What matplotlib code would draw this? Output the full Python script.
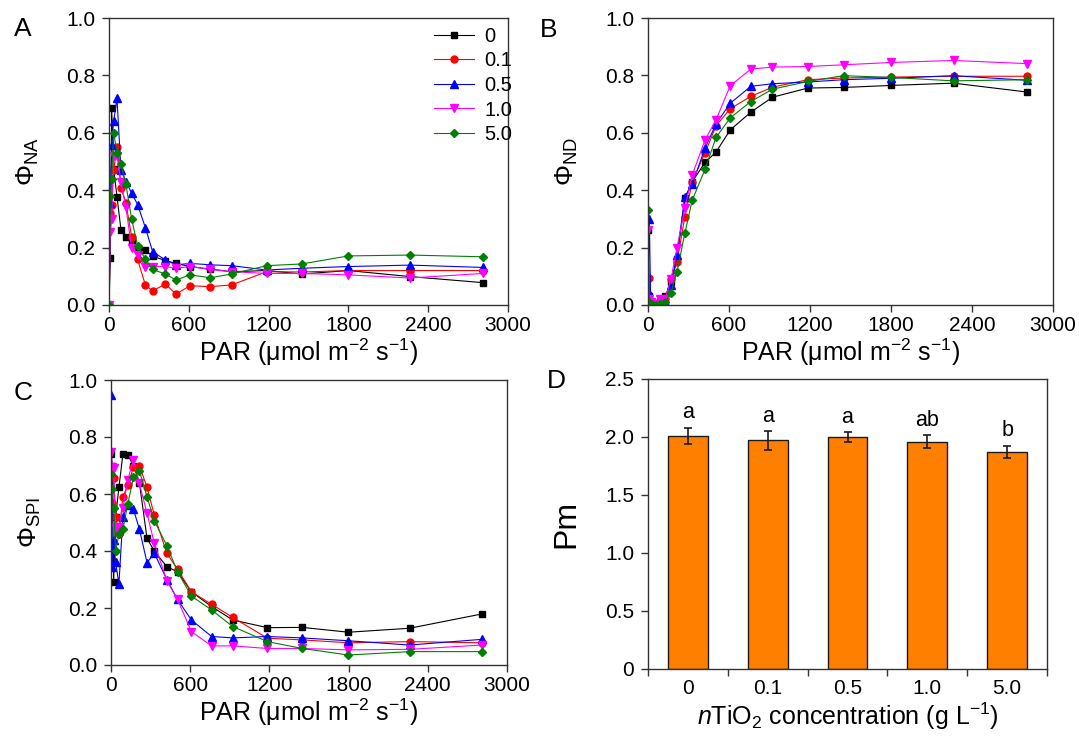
import matplotlib
matplotlib.use("Agg")
import matplotlib.pyplot as plt
import numpy as np

plt.rcParams['font.family'] = ['Liberation Sans', 'DejaVu Sans']
plt.rcParams['mathtext.fontset'] = 'custom'
plt.rcParams['mathtext.rm'] = 'Liberation Sans'
plt.rcParams['mathtext.it'] = 'Liberation Sans:italic'
plt.rcParams['mathtext.bf'] = 'Liberation Sans:bold'
plt.rcParams['mathtext.default'] = 'regular'

# ---------------- data ----------------
par = [0, 10, 20, 35, 60, 90, 127, 170, 215, 273, 328, 423, 504, 609, 762,
       922, 1185, 1449, 1799, 2263, 2809]
groups = ['0', '0.1', '0.5', '1.0', '5.0']

phi_na_0 = [0.0, 0.165, 0.686, 0.473, 0.378, 0.262, 0.238, 0.22, 0.20, 0.19, 0.17,
            0.155, 0.145, 0.134, 0.125, 0.116, 0.12, 0.108, 0.12, 0.099, 0.078]
phi_na_01 = [0.0, 0.32, 0.35, 0.47, 0.55, 0.407, 0.357, 0.238, 0.159, 0.07, 0.049,
             0.073, 0.038, 0.067, 0.064, 0.07, 0.116, 0.115, 0.12, 0.12, 0.12]
phi_na_05 = [0.0, 0.355, 0.558, 0.64, 0.72, 0.47, 0.43, 0.39, 0.35, 0.27, 0.186,
             0.157, 0.14, 0.145, 0.14, 0.137, 0.122, 0.128, 0.134, 0.139, 0.131]
phi_na_10 = [0.0, 0.256, 0.30, 0.52, 0.52, 0.43, 0.34, 0.20, 0.175, 0.134, 0.134,
             0.134, 0.128, 0.134, 0.124, 0.116, 0.11, 0.11, 0.105, 0.094, 0.11]
phi_na_50 = [0.0, 0.38, 0.44, 0.60, 0.53, 0.49, 0.42, 0.30, 0.207, 0.16, 0.124,
             0.108, 0.087, 0.105, 0.095, 0.108, 0.137, 0.143, 0.171, 0.174, 0.168]

phi_nd_0 = [0.26, 0.03, 0.01, 0.005, 0.005, 0.01, 0.03, 0.08, 0.16, 0.372, 0.43,
            0.497, 0.533, 0.61, 0.672, 0.724, 0.756, 0.758, 0.765, 0.773, 0.742]
phi_nd_01 = [0.02, 0.093, 0.01, 0.005, 0.005, 0.01, 0.02, 0.09, 0.15, 0.308, 0.43,
             0.531, 0.624, 0.684, 0.727, 0.759, 0.785, 0.791, 0.794, 0.797, 0.797]
phi_nd_05 = [0.05, 0.30, 0.0, 0.0, 0.0, 0.01, 0.01, 0.07, 0.174, 0.376, 0.422,
             0.547, 0.631, 0.703, 0.762, 0.771, 0.777, 0.785, 0.79, 0.799, 0.783]
phi_nd_10 = [0.26, 0.02, 0.01, 0.005, 0.005, 0.02, 0.02, 0.09, 0.20, 0.337, 0.453,
             0.576, 0.645, 0.764, 0.822, 0.829, 0.831, 0.837, 0.845, 0.852, 0.841]
phi_nd_50 = [0.33, 0.01, 0.005, 0.0, 0.0, 0.005, 0.01, 0.043, 0.116, 0.25, 0.366,
             0.473, 0.584, 0.652, 0.709, 0.752, 0.779, 0.799, 0.793, 0.781, 0.785]

phi_psi_0 = [0.74, 0.70, 0.292, 0.52, 0.623, 0.739, 0.737, 0.70, 0.64, 0.444, 0.40,
             0.345, 0.327, 0.257, 0.205, 0.158, 0.131, 0.132, 0.115, 0.129, 0.179]
phi_psi_01 = [0.66, 0.57, 0.655, 0.52, 0.46, 0.59, 0.63, 0.695, 0.70, 0.623, 0.526,
              0.392, 0.336, 0.257, 0.213, 0.167, 0.094, 0.088, 0.078, 0.082, 0.078]
phi_psi_05 = [0.947, 0.345, 0.44, 0.36, 0.284, 0.52, 0.56, 0.546, 0.477, 0.359, 0.392,
              0.30, 0.23, 0.158, 0.10, 0.095, 0.10, 0.095, 0.085, 0.07, 0.09]
phi_psi_10 = [0.749, 0.696, 0.69, 0.48, 0.485, 0.55, 0.65, 0.72, 0.637, 0.532, 0.427,
              0.296, 0.23, 0.117, 0.067, 0.067, 0.058, 0.058, 0.053, 0.055, 0.07]
phi_psi_50 = [0.67, 0.616, 0.552, 0.40, 0.46, 0.476, 0.565, 0.658, 0.682, 0.59, 0.506,
              0.419, 0.327, 0.242, 0.193, 0.135, 0.082, 0.058, 0.035, 0.047, 0.047]

pm_categories = ['0', '0.1', '0.5', '1.0', '5.0']
pm_values = [2.01, 1.97, 2.00, 1.96, 1.87]
pm_errors = [0.07, 0.08, 0.04, 0.055, 0.055]
pm_letters = ['a', 'a', 'a', 'ab', 'b']

colors = ['#000000', '#FF0000', '#0000FF', '#FF00FF', '#008000']
markers = ['s', 'o', '^', 'v', 'D']
msizes = [4.5, 5, 5.5, 5.5, 4.5]

# ---------------- figure ----------------
W, H = 1079, 736
fig = plt.figure(figsize=(W / 100, H / 100), dpi=100)

def ax_at(x0, y0, x1, y1):
    return fig.add_axes([x0 / W, 1 - y1 / H, (x1 - x0) / W, (y1 - y0) / H])

axA = ax_at(109, 18, 508, 305)
axB = ax_at(648, 18, 1053, 305)
axC = ax_at(111, 380, 507, 665)
axD = ax_at(648, 379, 1047, 669)

spine_col = '#333333'

def style(ax, fs=15):
    for s in ax.spines.values():
        s.set_color(spine_col)
        s.set_linewidth(1.0)
    ax.tick_params(direction='out', length=5, width=1, color=spine_col,
                   labelsize=fs, top=False, right=False)
    ax.tick_params(axis='y', pad=5)
    ax.tick_params(axis='x', pad=3)

series_sets = [
    (axA, [phi_na_0, phi_na_01, phi_na_05, phi_na_10, phi_na_50], 'Φ$_{NA}$'),
    (axB, [phi_nd_0, phi_nd_01, phi_nd_05, phi_nd_10, phi_nd_50], 'Φ$_{ND}$'),
    (axC, [phi_psi_0, phi_psi_01, phi_psi_05, phi_psi_10, phi_psi_50], 'Φ$_{SPI}$'),
]

for ax, sets, lab in series_sets:
    for vals, c, m, ms, g in zip(sets, colors, markers, msizes, groups):
        ax.plot(par, vals, color=c, marker=m, markersize=ms, linewidth=0.8,
                markeredgecolor=c, label=g)
    ax.set_xlim(0, 3000)
    ax.set_ylim(0, 1.0)
    ax.set_xticks([0, 600, 1200, 1800, 2400, 3000])
    ax.set_yticks([0.0, 0.2, 0.4, 0.6, 0.8, 1.0])
    ax.set_yticklabels(['0.0', '0.2', '0.4', '0.6', '0.8', '1.0'])
    style(ax)
    ax.set_xlabel('PAR (μmol m$^{-2}$ s$^{-1}$)', fontsize=18, labelpad=1)
    ax.set_ylabel(lab, fontsize=19, labelpad=18)

axA.legend(loc='upper left', bbox_to_anchor=(0.815, 0.97), frameon=False,
           fontsize=14.5, handlelength=2.0, handletextpad=0.5, labelspacing=0.28,
           borderpad=0, borderaxespad=0, numpoints=1)

# Panel D
xpos = np.arange(len(pm_categories))
axD.bar(xpos, pm_values, width=0.5, color='#FF8000', edgecolor='#1a1a1a',
        linewidth=1.0, zorder=2)
axD.errorbar(xpos, pm_values, yerr=pm_errors, fmt='none', ecolor='#1a1a1a',
             elinewidth=1.2, capsize=3, capthick=1.2, zorder=3)
for x, v, e, t in zip(xpos, pm_values, pm_errors, pm_letters):
    axD.text(x, v + e + 0.04, t, ha='center', va='bottom', fontsize=15.5)
axD.set_xlim(-0.5, len(pm_categories) - 0.5)
axD.set_ylim(0, 2.5)
axD.set_yticks([0, 0.5, 1.0, 1.5, 2.0, 2.5])
axD.set_yticklabels(['0', '0.5', '1.0', '1.5', '2.0', '2.5'])
style(axD, fs=15)
axD.set_xticks(xpos)
axD.set_xticklabels(pm_categories)
axD.tick_params(axis='x', length=0, pad=7)
axD.set_xticks(np.arange(-0.5, len(pm_categories)), minor=True)
axD.tick_params(axis='x', which='minor', direction='out', length=5, width=1,
                color=spine_col)
axD.set_xlabel('$\\mathit{n}$TiO$_2$ concentration (g L$^{-1}$)', fontsize=18, labelpad=2)
axD.set_ylabel('Pm', fontsize=23, labelpad=17)

# Panel letters
for txt, x, y in [('A', 23, 29), ('B', 549, 30), ('C', 23, 393), ('D', 556, 381)]:
    fig.text(x / W, 1 - y / H, txt, fontsize=19, ha='center', va='center')

fig.savefig('out.png', dpi=100)
